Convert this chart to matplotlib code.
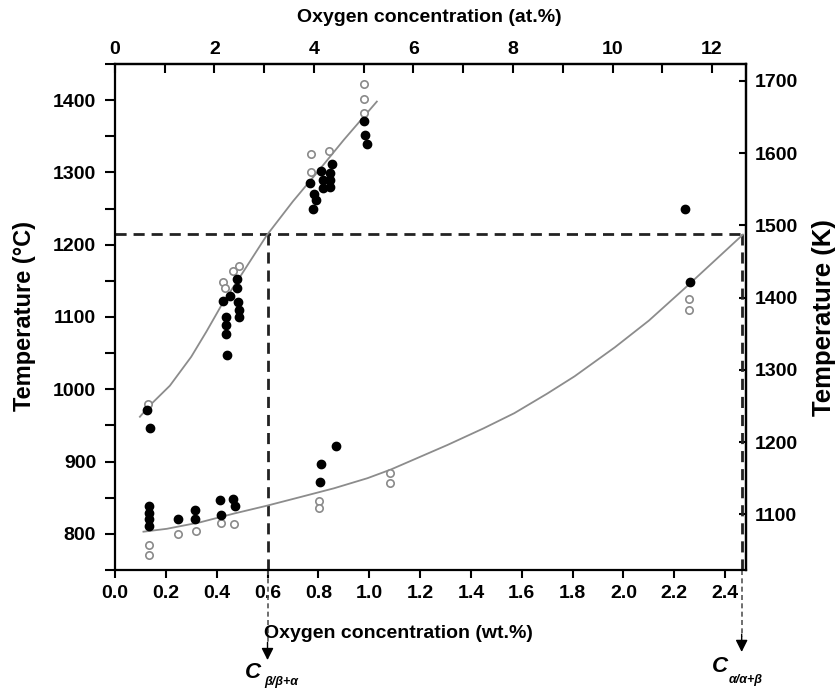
import numpy as np
import matplotlib
matplotlib.use("Agg")
import matplotlib.pyplot as plt
import matplotlib.transforms as mtransforms

plt.rcParams["font.family"] = ["Liberation Sans", "DejaVu Sans"]
plt.rcParams["font.weight"] = "bold"

# measured points, wt.% O vs temperature (C)
filled_wt = [0.127, 0.138, 0.135, 0.135, 0.135, 0.135, 0.247, 0.313, 0.313,
             0.414, 0.417, 0.463, 0.471, 0.809, 0.868, 0.805,
             0.426, 0.452, 0.479, 0.479, 0.484, 0.486, 0.486, 0.437, 0.437, 0.437, 0.439,
             0.809, 0.767, 0.852, 0.819, 0.845, 0.820, 0.845, 0.845, 0.782, 0.790, 0.778,
             0.980, 0.985, 0.990, 2.242, 2.262]
filled_T = [971, 947, 838, 829, 820, 811, 821, 833, 820,
            847, 826, 848, 838, 897, 921, 872,
            1122, 1129, 1153, 1140, 1121, 1110, 1100, 1100, 1089, 1077, 1048,
            1302, 1285, 1312, 1290, 1299, 1278, 1280, 1289, 1270, 1262, 1250,
            1371, 1352, 1339, 1249, 1149]

open_wt = [0.131, 0.135, 0.135, 0.247, 0.320, 0.417, 0.467, 0.802, 0.802,
           1.082, 1.082, 0.424, 0.433, 0.463, 0.486, 0.773, 0.842, 0.773,
           0.980, 0.980, 0.980, 2.259, 2.259]
open_T = [980, 785, 771, 800, 804, 815, 813, 846, 836,
          884, 871, 1149, 1140, 1164, 1170, 1325, 1330, 1300,
          1422, 1401, 1382, 1125, 1110]

# fitted boundaries
beta_wt = [0.098, 0.138, 0.216, 0.300, 0.360, 0.420, 0.500, 0.597, 0.700, 0.800, 0.900, 1.030]
beta_T = [962, 978, 1005, 1045, 1080, 1117, 1160, 1213, 1260, 1302, 1345, 1398]
alpha_wt = [0.112, 0.204, 0.335, 0.467, 0.598, 0.730, 0.861, 0.993, 1.085, 1.308,
            1.450, 1.571, 1.700, 1.808, 1.966, 2.100, 2.242, 2.470]
alpha_T = [803, 807, 816, 828, 839, 851, 863, 877, 889, 923,
           946, 967, 994, 1018, 1058, 1095, 1140, 1214]

T_line = 1215
c_beta = 0.6
c_alpha = 2.465
at_per_wt = 5.11

fig = plt.figure(figsize=(8.38, 6.88), dpi=100)
ax = fig.add_axes([0.1372, 0.1715, 0.7530, 0.7355])

ax.plot(beta_wt, beta_T, color="#8c8c8c", lw=1.3, zorder=2)
ax.plot(alpha_wt, alpha_T, color="#8c8c8c", lw=1.3, zorder=2)
ax.scatter(filled_wt, filled_T, s=36, color="black", zorder=4)
ax.scatter(open_wt, open_T, s=28, facecolor="white", edgecolor="#8a8a8a",
           linewidth=1.2, zorder=3)

ax.axhline(T_line, color="#222222", lw=2, linestyle=(0, (4, 2.5)), zorder=1)
ax.plot([c_beta, c_beta], [750, T_line], color="#222222", lw=2,
        linestyle=(0, (4, 2.5)), zorder=1)
ax.plot([c_alpha, c_alpha], [750, T_line], color="#222222", lw=2,
        linestyle=(0, (4, 2.5)), zorder=1)

# arrows below the axes
trans = mtransforms.blended_transform_factory(ax.transData, ax.transAxes)
for xc, tip in [(c_beta, -0.178), (c_alpha, -0.162)]:
    ax.plot([xc, xc], [0, tip + 0.03], transform=trans, clip_on=False,
            color="#555555", lw=1.2, linestyle=(0, (3, 2)))
    ax.annotate("", xy=(xc, tip), xycoords=trans, xytext=(xc, tip + 0.035),
                textcoords=trans,
                arrowprops=dict(arrowstyle="-|>", color="black", lw=1,
                                mutation_scale=18, shrinkA=0, shrinkB=0))

ax.set_xlim(0, 2.482)
ax.set_ylim(750, 1450)
ax.set_xticks(np.arange(0, 2.41, 0.2))
ax.set_xticklabels([f"{v:.1f}" for v in np.arange(0, 2.41, 0.2)])
ax.set_yticks([800, 900, 1000, 1100, 1200, 1300, 1400])
ax.set_yticks(np.arange(750, 1451, 50), minor=True)
ax.tick_params(axis="y", which="both", direction="out", length=7.5, width=1.5,
               labelsize=14, pad=6)
ax.tick_params(axis="x", which="both", direction="out", length=6, width=1.5,
               labelsize=14, pad=5)

top = ax.secondary_xaxis("top", functions=(lambda w: w * at_per_wt,
                                           lambda a: a / at_per_wt))
top.set_xticks([0, 2, 4, 6, 8, 10, 12])
top.set_xticks(np.arange(0, 13, 1), minor=True)
top.tick_params(which="both", direction="in", length=6.5, width=1.5,
                labelsize=14, pad=4)

right = ax.secondary_yaxis("right", functions=(lambda c: c + 273.15,
                                               lambda k: k - 273.15))
right.set_yticks([1100, 1200, 1300, 1400, 1500, 1600, 1700])
right.tick_params(direction="in", length=5, width=1.5, labelsize=14, pad=6)

for a in (ax, top, right):
    for sp in a.spines.values():
        sp.set_linewidth(1.6)

fig.text(24 / 838, 1 - 316 / 688, "Temperature (°C)", rotation=90,
         ha="center", va="center", fontsize=17)
fig.text(824 / 838, 1 - 318 / 688, "Temperature (K)", rotation=90,
         ha="center", va="center", fontsize=18.5)
fig.text(398 / 838, 1 - 633 / 688, "Oxygen concentration (wt.%)",
         ha="center", va="center", fontsize=14)
fig.text(429 / 838, 1 - 17 / 688, "Oxygen concentration (at.%)",
         ha="center", va="center", fontsize=14)

fig.text(245 / 838, 1 - 672 / 688, "C", ha="left", va="center",
         fontsize=16, style="italic")
fig.text(264 / 838, 1 - 682 / 688, "β/β+α", ha="left", va="center",
         fontsize=9, style="italic")
fig.text(712 / 838, 1 - 667 / 688, "C", ha="left", va="center",
         fontsize=16, style="italic")
fig.text(729 / 838, 1 - 680 / 688, "α/α+β", ha="left", va="center",
         fontsize=9, style="italic")

fig.savefig("out.png", dpi=100)
